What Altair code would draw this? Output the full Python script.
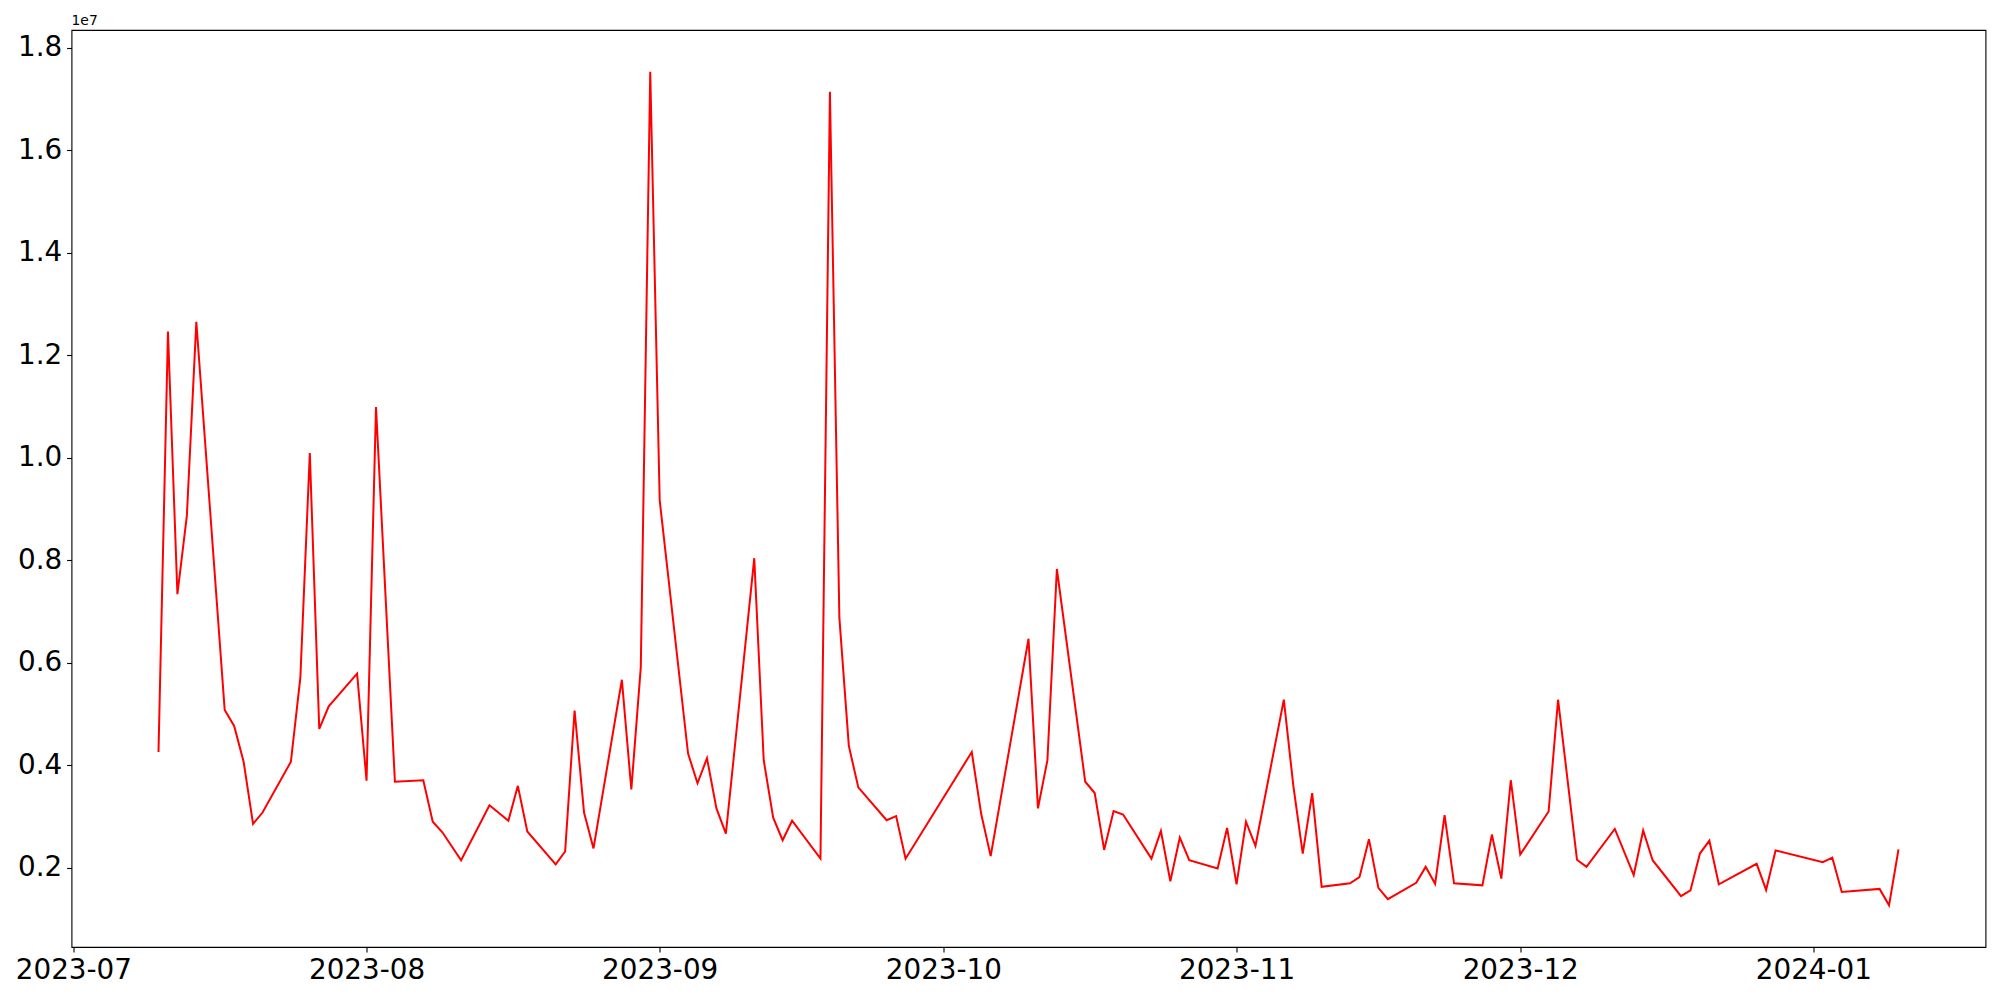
import altair as alt
import pandas as pd

# Dates (US weekdays) and values (in millions)
dates = [
    "2023-07-10", "2023-07-11", "2023-07-12", "2023-07-13", "2023-07-14",
    "2023-07-17", "2023-07-18", "2023-07-19", "2023-07-20", "2023-07-21",
    "2023-07-24", "2023-07-25", "2023-07-26", "2023-07-27", "2023-07-28",
    "2023-07-31", "2023-08-01", "2023-08-02", "2023-08-04",
    "2023-08-07", "2023-08-08", "2023-08-09", "2023-08-11",
    "2023-08-14", "2023-08-16", "2023-08-17", "2023-08-18",
    "2023-08-21", "2023-08-22", "2023-08-23", "2023-08-24", "2023-08-25",
    "2023-08-28", "2023-08-29", "2023-08-30", "2023-08-31", "2023-09-01",
    "2023-09-04", "2023-09-05", "2023-09-06", "2023-09-07", "2023-09-08",
    "2023-09-11", "2023-09-12", "2023-09-13", "2023-09-14", "2023-09-15",
    "2023-09-18", "2023-09-19", "2023-09-20", "2023-09-21", "2023-09-22",
    "2023-09-25", "2023-09-26", "2023-09-27",
    "2023-10-04", "2023-10-05", "2023-10-06",
    "2023-10-10", "2023-10-11", "2023-10-12", "2023-10-13",
    "2023-10-16", "2023-10-17", "2023-10-18", "2023-10-19", "2023-10-20",
    "2023-10-23", "2023-10-24", "2023-10-25", "2023-10-26", "2023-10-27",
    "2023-10-30", "2023-10-31", "2023-11-01", "2023-11-02", "2023-11-03",
    "2023-11-06", "2023-11-07", "2023-11-08", "2023-11-09", "2023-11-10",
    "2023-11-13", "2023-11-14", "2023-11-15", "2023-11-16", "2023-11-17",
    "2023-11-20", "2023-11-21", "2023-11-22", "2023-11-23", "2023-11-24",
    "2023-11-27", "2023-11-28", "2023-11-29", "2023-11-30", "2023-12-01",
    "2023-12-04", "2023-12-05", "2023-12-07", "2023-12-08",
    "2023-12-11", "2023-12-13", "2023-12-14", "2023-12-15",
    "2023-12-18", "2023-12-19", "2023-12-20", "2023-12-21", "2023-12-22",
    "2023-12-26", "2023-12-27", "2023-12-28",
    "2024-01-02", "2024-01-03", "2024-01-04",
    "2024-01-08", "2024-01-09", "2024-01-10",
]

values_millions = [
    4.26, 12.46, 7.34, 8.87, 12.65,
    5.08, 4.77, 4.07, 2.86, 3.08,
    4.07, 5.71, 10.09, 4.71, 5.15,
    5.79, 3.70, 10.99, 3.68,
    3.71, 2.90, 2.70, 2.15,
    3.22, 2.92, 3.60, 2.71,
    2.07, 2.32, 5.07, 3.08, 2.38,
    5.67, 3.53, 5.91, 17.53, 9.17,
    4.23, 3.65, 4.14, 3.16, 2.67,
    8.04, 4.10, 2.98, 2.54, 2.92,
    2.18, 17.14, 6.88, 4.38, 3.57,
    2.93, 3.01, 2.18,
    4.26, 3.05, 2.23,
    6.47, 3.16, 4.10, 7.83,
    3.68, 3.46, 2.35, 3.11, 3.04,
    2.18, 2.72, 1.74, 2.59, 2.15,
    1.99, 2.78, 1.68, 2.90, 2.43,
    5.28, 3.61, 2.28, 3.46, 1.63,
    1.70, 1.82, 2.56, 1.61, 1.39,
    1.71, 2.02, 1.69, 3.03, 1.70,
    1.66, 2.65, 1.79, 3.71, 2.26,
    3.10, 5.28, 2.16, 2.02,
    2.76, 1.86, 2.73, 2.15,
    1.45, 1.56, 2.28, 2.53, 1.68,
    2.08, 1.57, 2.34,
    2.11, 2.20, 1.53,
    1.59, 1.27, 2.36,
]

y_ticks = [2e6, 4e6, 6e6, 8e6, 10e6, 12e6, 14e6, 16e6, 18e6]
x_tick_months = [(2023, 7), (2023, 8), (2023, 9), (2023, 10), (2023, 11), (2023, 12), (2024, 1)]
offset_label = ["1e7"]

df = pd.DataFrame({"date": dates, "value": [v * 1e6 for v in values_millions]})

# matplotlib-style 5% margins
ts = pd.to_datetime(df["date"])
tmin, tmax = ts.min(), ts.max()
tpad = (tmax - tmin) * 0.05
x_domain = [int((tmin - tpad).value // 10**6), int((tmax + tpad).value // 10**6)]
vmin, vmax = df["value"].min(), df["value"].max()
vpad = (vmax - vmin) * 0.05
y_domain = [vmin - vpad, vmax + vpad]

FONT = "DejaVu Sans"
LABEL_SIZE = 27.8

line = alt.Chart(df).mark_line(color="#ff0000", strokeWidth=2, clip=True).encode(
    x=alt.X(
        "date:T",
        scale=alt.Scale(type="utc", domain=x_domain, nice=False),
        axis=alt.Axis(
            values=[alt.DateTime(year=y, month=m, date=1, utc=True) for y, m in x_tick_months],
            labelExpr="utcFormat(datum.value, '%Y-%m')",
            title=None,
            grid=False,
            domain=False,
            tickColor="black",
            tickWidth=1.1,
            tickSize=4.9,
            labelPadding=4.9,
            labelFont=FONT,
            labelFontSize=LABEL_SIZE,
            labelColor="black",
            labelFlush=False,
            labelOverlap=False,
        ),
    ),
    y=alt.Y(
        "value:Q",
        scale=alt.Scale(domain=y_domain, nice=False, zero=False),
        axis=alt.Axis(
            values=y_ticks,
            labelExpr="format(datum.value / 1e7, '.1f')",
            title=None,
            grid=False,
            domain=False,
            tickColor="black",
            tickWidth=1.1,
            tickSize=4.9,
            labelPadding=4.9,
            labelFont=FONT,
            labelFontSize=LABEL_SIZE,
            labelColor="black",
            labelFlush=False,
            labelOverlap=False,
        ),
    ),
)

offset_text = alt.Chart(pd.DataFrame({"label": offset_label})).mark_text(
    font=FONT, fontSize=13.9, color="black", align="left", baseline="middle"
).encode(
    text="label:N",
    x=alt.value(0),
    y=alt.value(-9),
)

chart = alt.layer(line, offset_text).properties(
    width=1914,
    height=917,
    autosize=alt.AutoSizeParams(type="none"),
    padding={"left": 63.5, "top": 22, "right": 6, "bottom": 45},
    background="white",
).configure_view(
    stroke="black",
    strokeWidth=1.1,
)

chart.save("out.html", embed_options={"renderer": "svg", "actions": False})
